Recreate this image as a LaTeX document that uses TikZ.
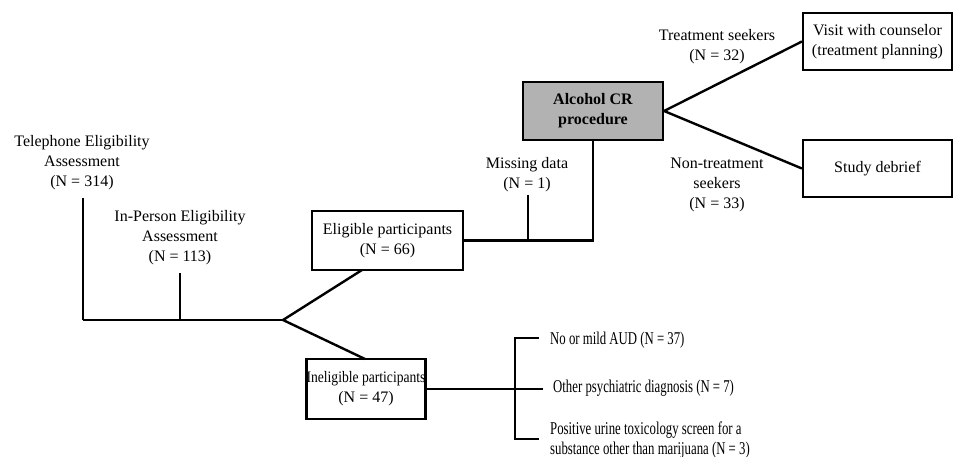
\documentclass[tikz,border=0pt]{standalone}
\usepackage{fontspec}
\setmainfont{Liberation Serif}
\usepackage{graphicx}
\begin{document}
\begin{tikzpicture}[x=1pt,y=-1pt,
  txt/.style={font=\fontsize{16}{20}\selectfont, align=center, inner sep=0pt},
  lbl/.style={font=\fontsize{18}{20}\selectfont, align=left, inner sep=0pt, anchor=west},
  box/.style={draw, line width=2.2pt, txt, minimum width=#1},
  greybox/.style={box=#1, fill=gray!60},
  thickline/.style={line width=2.4pt},
  thinline/.style={line width=1.1pt}]
\useasboundingbox (0,0) rectangle (955,457);

% text labels
\node[txt] (tel) at (82,163) {Telephone Eligibility\\Assessment\\(N = 314)};
\node[txt] (inp) at (180,238) {In-Person Eligibility\\Assessment\\(N = 113)};
\node[txt] (miss) at (527,175) {Missing data\\(N = 1)};
\node[txt] (treat) at (717,47) {Treatment seekers\\(N = 32)};
\node[txt] (nontreat) at (717,185) {Non-treatment\\seekers\\(N = 33)};

% boxes
\node[box=151pt, minimum height=59pt] (elig) at (387.5,240.5) {Eligible participants\\(N = 66)};
\node[box=118pt, minimum height=60pt] (inel) at (366,389) {\scalebox{0.85}[1]{Ineligible participants}\\(N = 47)};
\node[greybox=140pt, minimum height=58pt, font=\fontsize{16}{20}\selectfont\bfseries] (alc) at (593,111) {Alcohol CR\\procedure};
\node[box=149pt, minimum height=57pt] (visit) at (877.5,41.5) {Visit with counselor\\(treatment planning)};
\node[box=149pt, minimum height=57pt] (study) at (877.5,168.5) {Study debrief};

% ineligibility reasons
\node[lbl] (r1) at (550,340) {\scalebox{0.71}[1]{No or mild AUD (N = 37)}};
\node[lbl] (r2) at (553,388) {\scalebox{0.71}[1]{Other psychiatric diagnosis (N = 7)}};
\node[lbl] (r3) at (550,440) {\scalebox{0.71}[1]{\begin{tabular}{@{}l@{}}Positive urine toxicology screen for a\\substance other than marijuana (N = 3)\end{tabular}}};

% coordinates
\coordinate (teltop) at (83,198);
\coordinate (telbot) at (83,320);
\coordinate (inptop) at (180,273);
\coordinate (inpbot) at (180,320);
\coordinate (fork) at (283,320);
\coordinate (eligin) at (362,270);
\coordinate (inelin) at (365,359);
\coordinate (misstop) at (528,195);
\coordinate (missbot) at (528,240.5);
\coordinate (corner) at (593,240.5);
\coordinate (bmid) at (543,389);
\coordinate (btop) at (539,338);
\coordinate (btopl) at (515,338);
\coordinate (bbotl) at (515,439);
\coordinate (bbot) at (539,439);

% connectors
\draw[thinline] (teltop) -- (telbot);
\draw[thinline] (inptop) -- (inpbot);
\draw[thickline] (telbot) -- (fork);
\draw[thickline] (eligin) -- (fork) -- (inelin);
\draw[thickline] (elig.east) -- (corner) -- (alc.south);
\draw[thinline] (misstop) -- (missbot);
\draw[thickline] (alc.east) -- (visit.west);
\draw[thickline] (alc.east) -- (study.west);
\draw[thinline] (inel.east) -- (bmid);
\draw[thinline] (btop) -- (btopl) -- (bbotl) -- (bbot);
\end{tikzpicture}
\end{document}
